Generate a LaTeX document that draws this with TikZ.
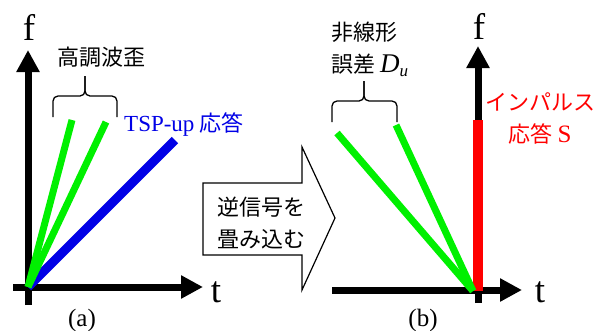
\documentclass[tikz,border=0pt]{standalone}
\usepackage{fontspec}
\setmainfont{Liberation Serif}
\newfontfamily\jpfont{Noto Sans CJK JP}
\newfontfamily\latinfont{Liberation Serif}
\usetikzlibrary{arrows.meta, positioning, calc}
\definecolor{hgreen}{HTML}{00F000}
\definecolor{hblue}{HTML}{0000E6}
\definecolor{hred}{HTML}{FF0000}

\begin{document}
\begin{tikzpicture}[
    x=1pt, y=-1pt,
    axis/.style={line width=7pt, -{Triangle[length=22pt, width=22pt]}},
    harmonic/.style={hgreen, line width=7pt},
    sweep/.style={hblue, line width=9pt},
    impulse/.style={hred, line width=10pt},
    axlabel/.style={font=\latinfont\fontsize{37}{37}\selectfont, inner sep=0pt},
    jplabel/.style={font=\jpfont\fontsize{22}{32}\selectfont, inner sep=0pt, align=center},
    caption/.style={font=\latinfont\fontsize{25}{25}\selectfont, inner sep=0pt},
    bracestyle/.style={line width=1.3pt, rounded corners=5pt},
    blockarrow/.style={draw, line width=1.2pt, fill=white, line join=miter}
]
    \useasboundingbox (0,0) rectangle (600,330);

    % (a) TSP-up response
    \coordinate (oa) at (28,287);
    \coordinate (ga1) at (72,120);
    \coordinate (ga2) at (106,122);
    \coordinate (ba) at (175,140);
    \draw[axis] (28,305) -- (28,50);
    \draw[axis] (13,287) -- (203,287);
    \draw[sweep] (oa) -- (ba);
    \draw[harmonic] (oa) -- (ga1);
    \draw[harmonic] (oa) -- (ga2);
    \node[axlabel] (fa) at (29,27) {f};
    \node[axlabel] (ta) at (216,292) {t};
    \draw[bracestyle] (53,117) -- (53,96) -- (85,96) -- (85,76);
    \draw[bracestyle] (117,117) -- (117,96) -- (85,96) -- (85,76);
    \node[jplabel] (hd) at (101,57) {高調波歪};
    \node[jplabel, hblue, anchor=west] (tsp) at (124,125)
        {{\latinfont\fontsize{23}{23}\selectfont TSP-up} 応答};
    \node[caption] (capa) at (82,320) {(a)};

    % deconvolution
    \draw[blockarrow] (203,183) -- (302,183) -- (302,147) -- (335,218)
        -- (302,290) -- (302,255) -- (203,255) -- cycle;
    \node[jplabel, align=left] (conv) at (261,223) {逆信号を\\畳み込む};

    % (b) impulse response
    \coordinate (ob) at (473,291);
    \coordinate (gb1) at (337,133);
    \coordinate (gb2) at (396,125);
    \draw[axis] (478,303) -- (478,46);
    \draw[axis] (332,290) -- (522,290);
    \draw[impulse] (478,120) -- (478,291);
    \draw[harmonic] (ob) -- (gb1);
    \draw[harmonic] (ob) -- (gb2);
    \node[axlabel] (fb) at (479,26) {f};
    \node[axlabel] (tb) at (540,292) {t};
    \draw[bracestyle] (332,122) -- (332,101) -- (364,101) -- (364,81);
    \draw[bracestyle] (397,122) -- (397,101) -- (364,101) -- (364,81);
    \node[jplabel, align=left, anchor=west] (nl) at (331,49)
        {非線形\\誤差 {\latinfont\itshape\fontsize{27}{27}\selectfont D\raisebox{-0.3ex}{\fontsize{17}{17}\selectfont u}}};
    \node[jplabel, hred] (ir) at (540,118)
        {インパルス\\応答 {\latinfont\fontsize{25}{25}\selectfont S}};
    \node[caption] (capb) at (423,320) {(b)};
\end{tikzpicture}
\end{document}
